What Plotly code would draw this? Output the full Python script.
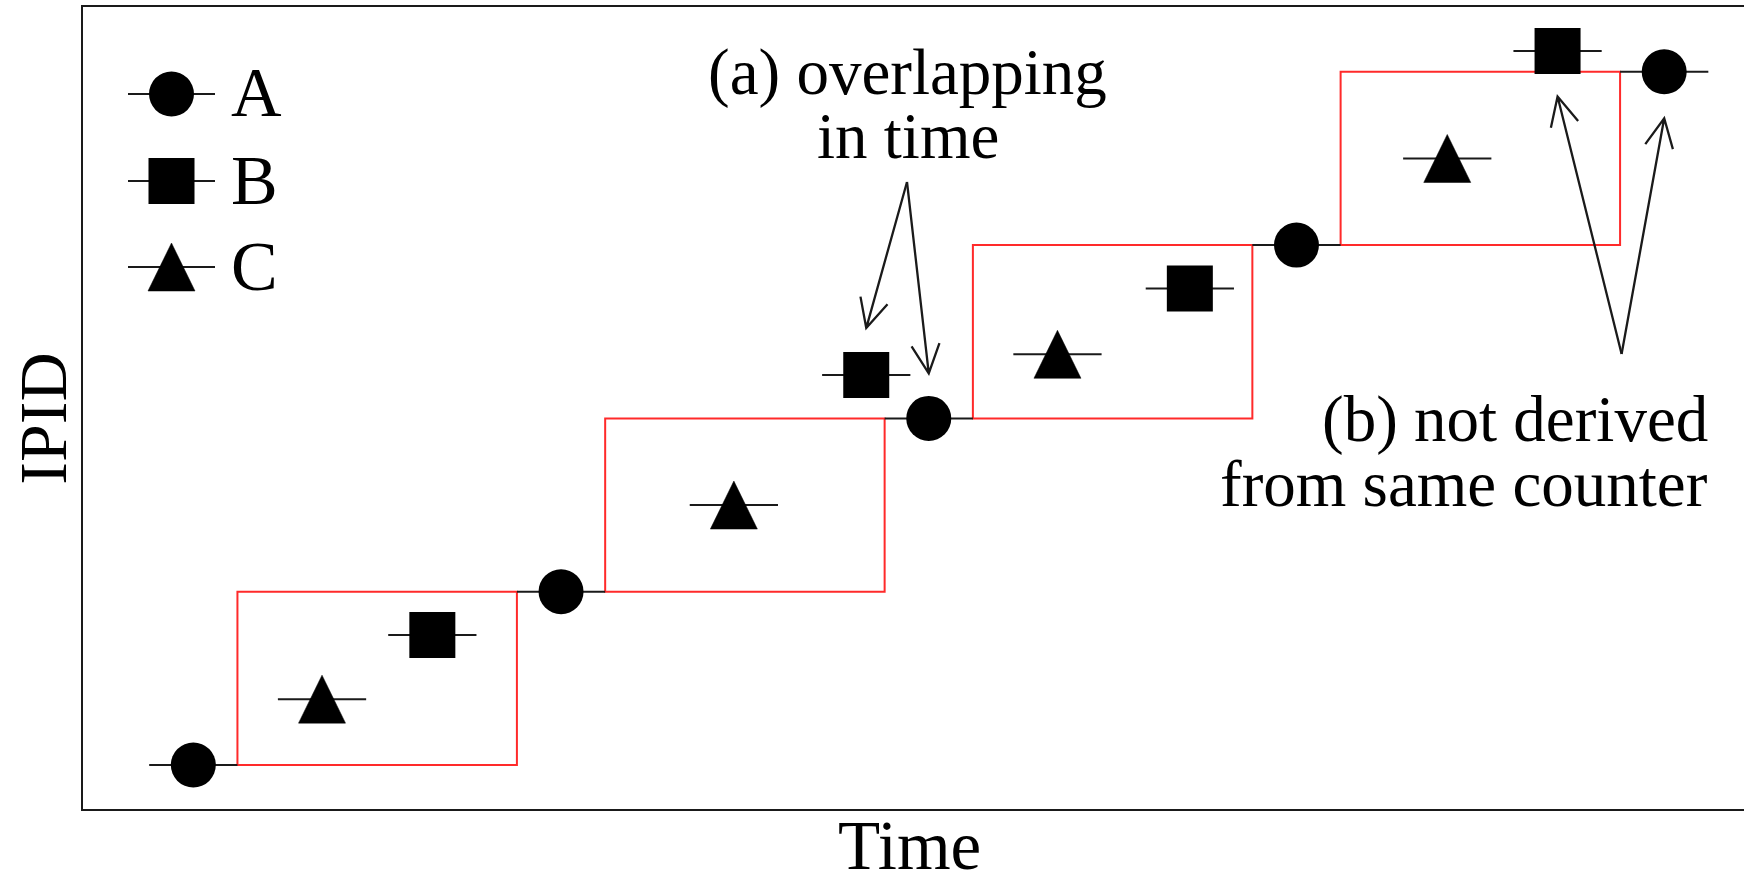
import math
import plotly.graph_objects as go

# ---------------- data ----------------
series_names = ["A", "B", "C"]
A_time = [5, 15, 25, 35, 45]
A_ipid = [0, 10, 20, 30, 40]
B_time = [11.5, 23.3, 32.1, 42.1]
B_ipid = [7.5, 22.5, 27.5, 41.2]
C_time = [8.5, 19.7, 28.5, 39.1]
C_ipid = [3.8, 15.0, 23.7, 35.0]
time_halfwidth = 1.2          # probe timing uncertainty (+/-)

x_title = "Time"
y_title = "IPID"
note_a = ["(a) overlapping", "in time"]
note_b = ["(b) not derived", "from same counter"]

# ---------------- layout constants ----------------
W, H = 1744, 883
ML, MR, MT, MB = 83, 0, 7, 74
PW, PH = W - ML - MR, H - MT - MB
XR = [2.0, 47.17]
YR = [-2.54, 43.74]
FONT = "Liberation Serif, Times New Roman, serif"
INK = "#1a1a1a"


def px(x):
    return ML + (x - XR[0]) / (XR[1] - XR[0]) * PW


def py(y):
    return MT + (YR[1] - y) / (YR[1] - YR[0]) * PH


def pap_x(p):
    return (p - ML) / PW


def pap_y(p):
    return (MT + PH - p) / PH


fig = go.Figure()

err = dict(type="constant", value=time_halfwidth, width=0, thickness=2, color=INK)

fig.add_trace(go.Scatter(x=A_time, y=A_ipid, name="A", mode="markers",
                         marker=dict(symbol="circle", size=45, color="black"),
                         error_x=err, showlegend=False))
fig.add_trace(go.Scatter(x=B_time, y=B_ipid, name="B", mode="markers",
                         marker=dict(symbol="square", size=46, color="black"),
                         error_x=err, showlegend=False))
fig.add_trace(go.Scatter(x=C_time, y=C_ipid, name="C", mode="markers",
                         marker=dict(symbol="triangle-up", size=40, color="black", opacity=0),
                         error_x=err, showlegend=False))

shapes = []
# red windows between consecutive A probes
for i in range(len(A_time) - 1):
    shapes.append(dict(type="rect", xref="x", yref="y", layer="below",
                       x0=A_time[i] + time_halfwidth, x1=A_time[i + 1] - time_halfwidth,
                       y0=A_ipid[i], y1=A_ipid[i + 1],
                       line=dict(color="#ff2a2a", width=2), fillcolor="rgba(0,0,0,0)"))

TRI = "M-23.5,-24 L23.5,-24 L0,24 Z"
# tall triangles for C, anchored on the data points
for cx, cy in zip(C_time, C_ipid):
    shapes.append(dict(type="path", xref="x", yref="y", xsizemode="pixel", ysizemode="pixel",
                       xanchor=cx, yanchor=cy, path=TRI, fillcolor="black",
                       line=dict(color="black", width=0.5)))

# legend drawn by hand
leg_x = 171.5
leg_rows = [94, 181, 267]
for name, ry in zip(series_names, leg_rows):
    ax, ay = pap_x(leg_x), pap_y(ry)
    shapes.append(dict(type="line", xref="paper", yref="paper", xsizemode="pixel", ysizemode="pixel",
                       xanchor=ax, yanchor=ay, x0=-43.5, x1=43.5, y0=0, y1=0,
                       line=dict(color=INK, width=2)))
    if name == "A":
        shapes.append(dict(type="circle", xref="paper", yref="paper", xsizemode="pixel",
                           ysizemode="pixel", xanchor=ax, yanchor=ay, x0=-22.5, x1=22.5,
                           y0=-22.5, y1=22.5, fillcolor="black", line=dict(width=0)))
    elif name == "B":
        shapes.append(dict(type="rect", xref="paper", yref="paper", xsizemode="pixel",
                           ysizemode="pixel", xanchor=ax, yanchor=ay, x0=-23, x1=23,
                           y0=-23, y1=23, fillcolor="black", line=dict(width=0)))
    else:
        shapes.append(dict(type="path", xref="paper", yref="paper", xsizemode="pixel",
                           ysizemode="pixel", xanchor=ax, yanchor=ay, path=TRI,
                           fillcolor="black", line=dict(color="black", width=0.5)))


def arrow_path(sx, sy, tx, ty, head=32, ang=26):
    dx, dy = sx - tx, sy - ty
    n = math.hypot(dx, dy)
    ux, uy = dx / n, dy / n
    arms = []
    for s in (1, -1):
        a = math.radians(ang * s)
        arms.append((tx + head * (ux * math.cos(a) - uy * math.sin(a)),
                     ty + head * (ux * math.sin(a) + uy * math.cos(a))))

    def P(x, y):
        return f"{pap_x(x):.5f},{pap_y(y):.5f}"
    return (f"M{P(sx, sy)} L{P(tx, ty)} M{P(*arms[0])} L{P(tx, ty)} L{P(*arms[1])}")


arrows = [
    ((907, 182), (px(B_time[1]), py(B_ipid[1]) - 47)),
    ((907, 182), (px(A_time[2]), py(A_ipid[2]) - 45)),
    ((1621.6, 354), (px(B_time[3]), py(B_ipid[3]) + 45.5)),
    ((1621.6, 354), (px(A_time[4]), py(A_ipid[4]) + 46.5)),
]
for (sx, sy), (tx, ty) in arrows:
    shapes.append(dict(type="path", xref="paper", yref="paper",
                       path=arrow_path(sx, sy, tx, ty), line=dict(color=INK, width=2.3)))

annotations = []


def note(text, x, y, size, xanchor="center", angle=0):
    annotations.append(dict(text=text, xref="paper", yref="paper", x=pap_x(x), y=pap_y(y),
                            xanchor=xanchor, yanchor="middle", showarrow=False, textangle=angle,
                            borderpad=0,
                            font=dict(family=FONT, size=size, color="black")))


for name, ry in zip(series_names, leg_rows):
    note(name, 230, ry - 1, 70, xanchor="left")
note(note_a[0], 907, 72, 65)
note(note_a[1], 908, 136, 65)
note(note_b[0], 1709, 419, 65, xanchor="right")
note(note_b[1], 1709, 484, 65, xanchor="right")
note(x_title, 909.5, 846, 69)
note(y_title, 43, 418.7, 68, angle=-90)

axis_common = dict(showgrid=False, zeroline=False, showticklabels=False, ticks="",
                   showline=True, linecolor=INK, linewidth=2)
fig.update_layout(
    width=W, height=H,
    margin=dict(l=ML, r=MR, t=MT, b=MB, pad=0),
    paper_bgcolor="white", plot_bgcolor="white",
    xaxis=dict(range=XR, mirror=True, **axis_common),
    yaxis=dict(range=YR, mirror=False, **axis_common),
    shapes=shapes, annotations=annotations,
    showlegend=False,
)

fig.write_html("out.html",
               config={"displayModeBar": False},
               post_script="document.body.style.margin='0';document.body.style.overflow='hidden';")
